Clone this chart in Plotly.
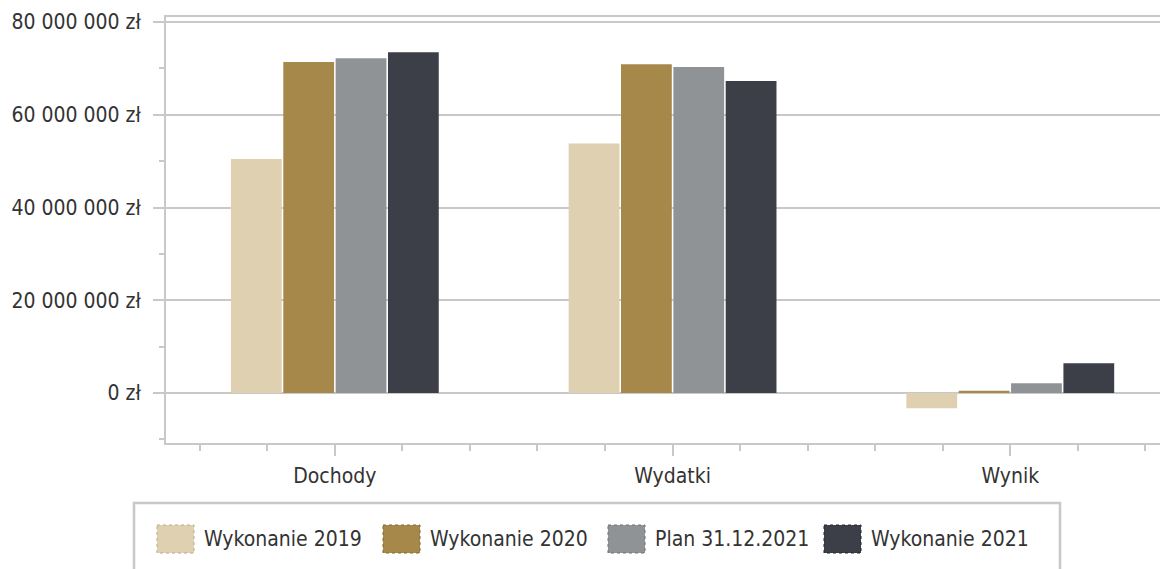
import plotly.graph_objects as go

categories = ["Dochody", "Wydatki", "Wynik"]
series_names = ["Wykonanie 2019", "Wykonanie 2020", "Plan 31.12.2021", "Wykonanie 2021"]
wyk_2019 = [50_450_000, 53_800_000, -3_300_000]
wyk_2020 = [71_400_000, 70_900_000, 450_000]
plan_2021 = [72_200_000, 70_300_000, 2_100_000]
wyk_2021 = [73_500_000, 67_300_000, 6_400_000]
series_values = [wyk_2019, wyk_2020, plan_2021, wyk_2021]
colors = ["#DED0B0", "#A6884A", "#909396", "#3C3E48"]
swatch_borders = ["#B9AC8E", "#85692F", "#6E7174", "#24262E"]
y_tick_values = [0, 20_000_000, 40_000_000, 60_000_000, 80_000_000]
y_tick_labels = ["0 zł", "20 000 000 zł", "40 000 000 zł", "60 000 000 zł", "80 000 000 zł"]

FONT = "DejaVu Sans Condensed, DejaVu Sans, sans-serif"
TXT = "#333333"
GRID = "#C8C8C8"
OFF = 8  # page body margin
W, H = 1168 - OFF, 569 - OFF
ML, MT, MR = 166 - OFF, 17 - OFF, 0
MB = H - (443 - OFF)
PW, PH = W - ML - MR, H - MT - MB

def px_x(p):
    return (p - OFF - ML) / PW

def px_y(p):
    return (H - MB - (p - OFF)) / PH

xpos = list(range(len(categories)))

fig = go.Figure()
for name, vals, col in zip(series_names, series_values, colors):
    fig.add_bar(x=xpos, y=vals, name=name, marker_color=col,
                marker_line_width=0, showlegend=False)

# manual legend
shapes = [dict(type="rect", xref="paper", yref="paper",
               x0=px_x(134), x1=px_x(1060), y0=px_y(503), y1=px_y(600),
               line=dict(color=GRID, width=2.5), fillcolor="rgba(0,0,0,0)", layer="above")]
annotations = []
swatch_x = [157, 383, 608, 824]
text_x = [202, 428, 653, 869]
for i, name in enumerate(series_names):
    shapes.append(dict(type="rect", xref="paper", yref="paper",
                       x0=px_x(swatch_x[i]), x1=px_x(swatch_x[i] + 37),
                       y0=px_y(525), y1=px_y(553),
                       fillcolor=colors[i],
                       line=dict(color=swatch_borders[i], width=1, dash="dot")))
    annotations.append(dict(xref="paper", yref="paper", x=px_x(text_x[i]), y=px_y(539),
                            text=name, showarrow=False, xanchor="left", yanchor="middle",
                            font=dict(family=FONT, size=21, color=TXT)))

fig.update_layout(
    width=W, height=H,
    margin=dict(l=ML, r=MR, t=MT, b=MB, pad=0),
    paper_bgcolor="white", plot_bgcolor="white",
    barmode="group", bargap=0.38, bargroupgap=0.03,
    font=dict(family=FONT, size=21, color=TXT),
    shapes=shapes, annotations=annotations,
    showlegend=False,
)
fig.update_xaxes(
    type="linear", range=[-0.5, 2.467],
    tickmode="array", tickvals=xpos, ticktext=categories,
    ticks="outside", ticklen=11, tickwidth=2, tickcolor=GRID,
    minor=dict(ticks="outside", dtick=0.2, tick0=0, ticklen=6, tickwidth=2,
               tickcolor=GRID, showgrid=False),
    showline=True, linecolor=GRID, linewidth=2, mirror=True,
    showgrid=False, zeroline=False, ticklabelstandoff=2,
    tickfont=dict(family=FONT, size=21, color=TXT),
)
fig.update_yaxes(
    range=[-10_800_000, 81_100_000],
    tickmode="array", tickvals=y_tick_values, ticktext=y_tick_labels,
    ticks="outside", ticklen=11, tickwidth=2, tickcolor=GRID,
    minor=dict(ticks="outside", dtick=10_000_000, tick0=0, ticklen=5, tickwidth=2,
               tickcolor=GRID, showgrid=False),
    showline=True, linecolor=GRID, linewidth=2,
    showgrid=True, gridcolor=GRID, gridwidth=2,
    zeroline=True, zerolinecolor=GRID, zerolinewidth=2,
    ticklabelstandoff=8,
    tickfont=dict(family=FONT, size=21, color=TXT),
)

fig.write_html("out.html")
